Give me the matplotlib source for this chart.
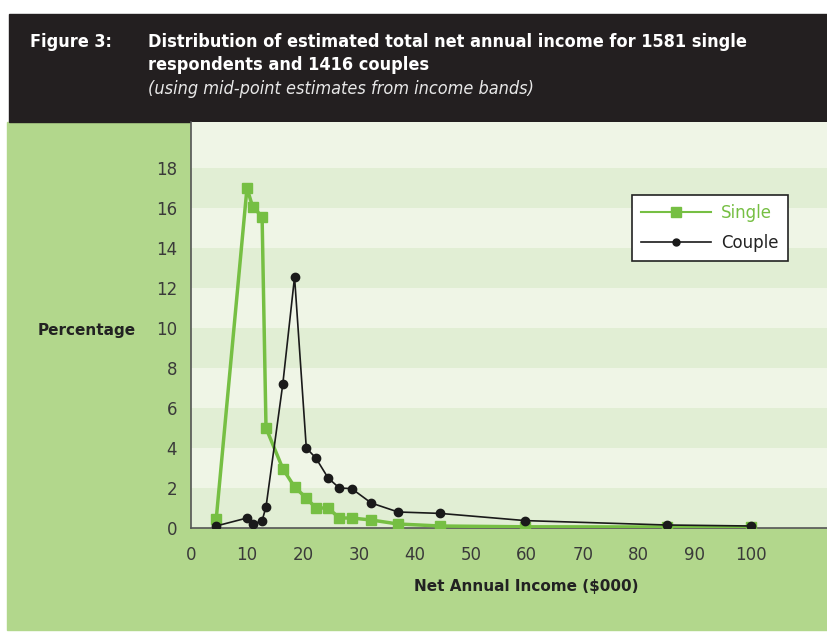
import matplotlib.pyplot as plt
from matplotlib.patches import Rectangle

# income band mid-points ($000)
income = [4.5, 10, 11, 12.7, 13.4, 16.4, 18.5, 20.6, 22.3, 24.5, 26.5, 28.7,
          32.2, 37, 44.5, 59.7, 85, 100]
single = [0.43, 17.0, 16.07, 15.57, 5.0, 2.97, 2.05, 1.5, 1.0, 1.0, 0.5, 0.5,
          0.4, 0.2, 0.1, 0.06, 0.05, 0.05]
couple = [0.1, 0.5, 0.18, 0.37, 1.05, 7.2, 12.55, 4.0, 3.5, 2.5, 2.0, 1.97,
          1.25, 0.8, 0.73, 0.37, 0.15, 0.1]
yticks = list(range(0, 20, 2))
xticks = list(range(0, 101, 10))

green = '#76bf43'
panel = '#b2d78c'
light = '#eff5e6'
dark = '#e1eed4'
header = '#231f20'

fig = plt.figure(figsize=(8.28, 6.32), dpi=100)
W, H = 828, 632

# background panels
fig.patches.append(Rectangle((7 / W, 2 / H), 1 - 7 / W, 508 / H,
                             transform=fig.transFigure, color=panel, zorder=-10))
fig.patches.append(Rectangle((9 / W, (H - 122) / H), 1 - 9 / W, 108 / H,
                             transform=fig.transFigure, color=header, zorder=-10))

tkw = dict(color='white', fontsize=13, fontweight='bold', family='DejaVu Sans',
           stretch='condensed', va='center')
fig.text(30 / W, (H - 42) / H, 'Figure 3:', **tkw)
fig.text(148 / W, (H - 42) / H,
         'Distribution of estimated total net annual income for 1581 single', **tkw)
fig.text(148 / W, (H - 65) / H, 'respondents and 1416 couples', **tkw)
fig.text(148 / W, (H - 89) / H, '(using mid-point estimates from income bands)',
         color='#e8e8e8', fontsize=13, style='italic', family='DejaVu Sans',
         stretch='condensed', va='center')

ax = fig.add_axes([191 / W, (H - 528) / H, 1 - 191 / W, 406 / H])
ax.set_xlim(0, 113.8)
ax.set_ylim(0, 20.3)
ax.set_facecolor(light)
for y0 in range(0, 18, 4):
    ax.axhspan(y0, y0 + 2, color=dark, lw=0, zorder=0)

ax.plot(income, single, color=green, lw=2.5, marker='s', ms=7.5, label='Single',
        zorder=3)
ax.plot(income, couple, color='#1a1a1a', lw=1.2, marker='o', ms=6, label='Couple',
        zorder=4)

ax.set_xticks(xticks)
ax.set_yticks(yticks)
ax.tick_params(length=0, labelsize=12, colors='#3a3a3a')
ax.tick_params(axis='x', pad=13)
ax.tick_params(axis='y', pad=10)
for s in ['top', 'right']:
    ax.spines[s].set_visible(False)
for s in ['left', 'bottom']:
    ax.spines[s].set_color('#555555')
    ax.spines[s].set_linewidth(1.2)

fig.text(38 / W, (H - 330) / H, 'Percentage', fontsize=11, fontweight='bold',
         color='#222222', va='center')
fig.text(526 / W, (H - 587) / H, 'Net Annual Income ($000)', fontsize=11,
         fontweight='bold', color='#222222', va='center', ha='center')

leg = ax.legend(loc='upper left', bbox_to_anchor=(441 / 637, 1 - 73 / 406),
                frameon=True, fancybox=False, fontsize=12, handlelength=4.2,
                borderpad=0.55, labelspacing=0.7, handletextpad=0.6,
                borderaxespad=0)
leg.get_frame().set_edgecolor('#222222')
leg.get_frame().set_linewidth(1.2)
leg.get_frame().set_facecolor('white')
leg.get_frame().set_alpha(1)
leg.legend_handles[0].set_linewidth(1.5)
leg.legend_handles[0].set_markersize(7)
leg.legend_handles[1].set_markersize(5)
leg.get_texts()[0].set_color(green)
leg.get_texts()[1].set_color('#222222')

fig.savefig('out.png', dpi=100)
